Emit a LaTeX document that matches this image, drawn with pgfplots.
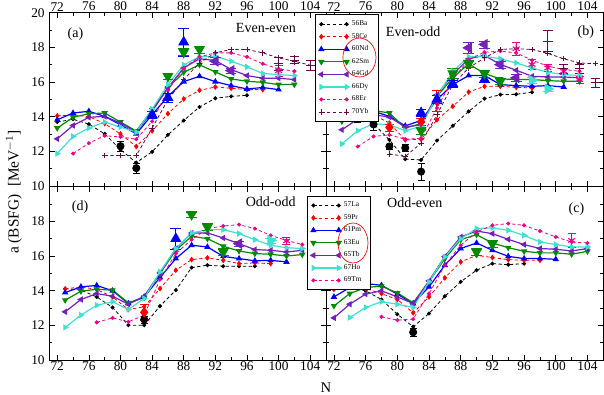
\documentclass[border=0pt]{standalone}
\usepackage{pgfplots}
\pgfplotsset{compat=1.18}
\usepackage{fontspec}
\setmainfont{Liberation Serif}
\definecolor{cgreen}{RGB}{0,139,0}
\definecolor{cindigo}{RGB}{114,33,188}
\definecolor{cturq}{RGB}{64,224,208}
\definecolor{cmaroon}{RGB}{103,7,72}
\tikzset{plab/.style={font=\fontsize{10.5}{12}\selectfont}}
\newcommand{\legE}[1]{\addlegendentry{#1\hspace*{2.5pt}}}
\pgfplotsset{
 panel/.style={scale only axis, width=207.5pt, height=130pt,
   xmin=71, xmax=106, ymin=10, ymax=20,
   xtick={72,76,...,104}, minor xtick={74,78,...,102},
   ytick={10,12,...,20}, minor ytick={11,13,...,19},
   tick align=inside, major tick length=4pt, minor tick length=2.2pt,
   every tick/.append style={black, line width=0.5pt},
   tick label style={font=\fontsize{10}{12}\selectfont},
   xticklabel style={inner sep=1pt},
   /pgf/number format/assume math mode=true,
   axis line style={line width=0.6pt}},
 dsh/.style={dash pattern=on 2.5pt off 1.8pt, line width=0.6pt},
 sld/.style={line width=0.9pt},
 sBa/.style={black, dsh, mark=*, mark size=1.2pt, mark options={solid}},
 sCe/.style={red, dsh, mark=diamond*, mark size=1.7pt, mark options={solid}},
 sNd/.style={blue, sld, mark=triangle*, mark size=1.9pt, mark options={solid}},
 sSm/.style={cgreen, sld, mark=triangle*, mark size=1.9pt, mark options={solid, rotate=180}},
 sGd/.style={cindigo, sld, mark=triangle*, mark size=1.9pt, mark options={solid, rotate=90}},
 sDy/.style={cturq, sld, mark=triangle*, mark size=1.9pt, mark options={solid, rotate=-90}},
 sEr/.style={magenta, dsh, mark=*, mark size=1.2pt, mark options={solid}},
 sYb/.style={cmaroon, dsh, mark=+, mark size=2pt, mark options={solid}},
 ex/.style={only marks, forget plot, line width=0.8pt,
   error bars/y dir=both, error bars/y explicit,
   error bars/error bar style={line width=0.8pt}},
 exEr/.style={magenta, ex, mark=asterisk, mark size=3pt},
 exYb/.style={cmaroon, ex, mark=+, mark size=3.5pt},
 leg/.style={legend cell align=left,
   legend image code/.code={\draw[##1] plot coordinates {(0pt,0pt) (19pt,0pt)};},
   legend style={draw=black, line width=0.6pt, fill=white,
     font=\fontsize{5.5}{6}\selectfont, inner sep=2.5pt, row sep=0.2pt,
     nodes={inner sep=2pt}}}
}
\begin{document}
\begin{tikzpicture}
\useasboundingbox (0,0) rectangle (453pt,296.25pt);
% ---------------- (a) Even-even
\begin{axis}[panel, at={(37pt,156.75pt)}, anchor=south west, xticklabel pos=right]
\addplot[sBa] coordinates {(72,13.69)(74,13.85)(76,13.57)(78,13.01)(80,12.1)(82,11.35)(84,11.97)(86,12.95)(88,13.78)(90,14.56)(92,15.06)(94,15.17)(96,15.23)};
\addplot[sCe] coordinates {(72,14.05)(74,14.1)(76,14.0)(78,13.6)(80,13.0)(82,12.28)(84,13.18)(86,14.17)(88,15.02)(90,15.52)(92,15.71)(94,15.64)(96,15.56)(98,15.56)};
\addplot[sNd] coordinates {(72,13.82)(74,14.21)(76,14.31)(78,14.02)(80,13.53)(82,13.01)(84,14.11)(86,15.17)(88,16.02)(90,16.33)(92,16.02)(94,15.79)(96,15.6)(98,15.68)(100,15.56)};
\addplot[sSm] coordinates {(72,13.34)(74,13.96)(76,14.17)(78,14.21)(80,13.69)(82,13.17)(84,14.4)(86,15.66)(88,16.56)(90,16.99)(92,16.58)(94,16.18)(96,16.04)(98,15.98)(100,15.85)(102,15.85)};
\addplot[sGd] coordinates {(72,12.72)(74,13.49)(76,13.96)(78,14.02)(80,13.63)(82,13.11)(84,14.3)(86,15.66)(88,16.81)(90,17.34)(92,17.24)(94,16.72)(96,16.37)(98,16.22)(100,16.22)(102,16.14)};
\addplot[sDy] coordinates {(72,11.87)(74,12.86)(76,13.34)(78,13.69)(80,13.4)(82,13.11)(84,14.44)(86,15.85)(88,16.99)(90,17.45)(92,17.49)(94,17.2)(96,16.87)(98,16.49)(100,16.43)(102,16.37)};
\addplot[sEr] coordinates {(74,11.87)(76,12.47)(78,12.9)(80,12.83)(82,12.7)(84,13.73)(86,15.52)(88,16.81)(90,17.45)(92,17.68)(94,17.68)(96,17.45)(98,17.05)(100,16.76)(102,16.62)};
\addplot[sYb] coordinates {(78,11.76)(80,11.76)(82,11.76)(84,13.34)(86,14.98)(88,16.14)(90,17.1)(92,17.68)(94,17.88)(96,17.88)(98,17.68)(100,17.39)(102,17.2)(104,16.97)};
\addplot[black, ex, mark=*, mark size=2.6pt] coordinates {(80,12.3) +- (0,0.3) (82,11.03) +- (0,0.3)};
\addplot[blue, ex, mark=triangle*, mark size=4pt] coordinates {(84,14.1) +- (0,0.2) (86,15.1) +- (0,0.25) (88,18.3) +- (0,0.8)};
\addplot[cgreen, ex, mark=triangle*, mark size=4pt, mark options={rotate=180}] coordinates {(86,16.33) +- (0,0.15) (88,17.72) +- (0,0.2) (90,17.88) +- (0,0.2)};
\addplot[cindigo, ex, mark=triangle*, mark size=4pt, mark options={rotate=90}] coordinates {(92,17.2) +- (0,0.2) (94,16.66) +- (0,0.15)};
\addplot[exEr] coordinates {(100,16.65) +- (0,0.3)};
\addplot[exYb] coordinates {(100,17.05) +- (0,0.35) (102,17.26) +- (0,0.2) (104,16.97) +- (0,0.3)};
\node[plab] at (axis cs:74.3,18.74) {(a)};
\node[plab] at (axis cs:98.4,19.1) {Even-even};
\end{axis}
% ---------------- (d) Odd-odd
\begin{axis}[panel, at={(37pt,26.25pt)}, anchor=south west, yticklabels={10,12,14,16,18,{}}]
\addplot[sBa] coordinates {(73,14.12)(75,14.03)(77,13.64)(79,13.03)(81,12.01)(83,12.01)(85,13.11)(87,14.03)(89,15.33)(91,15.47)(93,15.41)(95,15.41)(97,15.41)};
\addplot[sCe] coordinates {(73,14.1)(75,14.22)(77,14.07)(79,13.64)(81,12.91)(83,13.07)(85,14.12)(87,15.18)(89,15.79)(91,15.89)(93,15.75)(95,15.56)(97,15.6)(99,15.56)};
\addplot[sNd] coordinates {(73,13.89)(75,14.22)(77,14.3)(79,13.99)(81,13.26)(83,13.64)(85,14.76)(87,15.85)(89,16.62)(91,16.52)(93,15.98)(95,15.85)(97,15.72)(99,15.75)(101,15.66)};
\addplot[sSm] coordinates {(73,13.45)(75,13.97)(77,14.08)(79,14.03)(81,13.3)(83,13.6)(85,14.99)(87,16.33)(89,17.14)(91,17.0)(93,16.56)(95,16.29)(97,16.14)(99,16.1)(101,16.0)(103,16.08)};
\addplot[sGd] coordinates {(73,12.78)(75,13.49)(77,13.83)(79,13.68)(81,13.22)(83,13.68)(85,15.02)(87,16.43)(89,17.33)(91,17.33)(93,17.04)(95,16.71)(97,16.37)(99,16.33)(101,16.23)(103,16.33)};
\addplot[sDy] coordinates {(73,11.88)(75,12.59)(77,13.16)(79,13.36)(81,12.91)(83,13.55)(85,15.08)(87,16.43)(89,17.33)(91,17.52)(93,17.52)(95,17.29)(97,16.94)(99,16.62)(101,16.48)(103,16.43)};
\addplot[sEr] coordinates {(77,12.17)(79,12.43)(81,12.2)(83,12.59)(85,14.64)(87,16.14)(89,16.94)(91,17.58)(93,17.73)(95,17.81)(97,17.58)(99,17.19)(101,16.9)(103,16.66)};
\addplot[black, ex, mark=*, mark size=2.6pt] coordinates {(83,12.34) +- (0,0.2)};
\addplot[red, ex, mark=diamond*, mark size=3.5pt] coordinates {(83,12.75) +- (0,0.45)};
\addplot[blue, ex, mark=triangle*, mark size=4pt] coordinates {(87,17.0) +- (0,0.6)};
\addplot[cgreen, ex, mark=triangle*, mark size=4pt, mark options={rotate=180}] coordinates {(89,18.4) +- (0,0.15) (91,17.67) +- (0,0.2) (93,16.23) +- (0,0.2)};
\addplot[cindigo, ex, mark=triangle*, mark size=4pt, mark options={rotate=90}] coordinates {(95,16.71) +- (0,0.15)};
\addplot[cturq, ex, mark=triangle*, mark size=4pt, mark options={rotate=-90}] coordinates {(99,16.9) +- (0,0.15)};
\addplot[exEr] coordinates {(101,16.87) +- (0,0.2)};
\node[plab] at (axis cs:74.9,18.8) {(d)};
\node[plab] at (axis cs:99,19.14) {Odd-odd};
\end{axis}
% ---------------- (b) Even-odd
\begin{axis}[panel, at={(244.5pt,156.75pt)}, anchor=south west, width=208pt, xticklabel pos=right, yticklabels={}, leg,
  legend style={at={(axis description cs:-0.04,0.99)}, anchor=north west}]
\addplot[sBa] coordinates {(73,14.02)(75,13.9)(77,13.6)(79,12.66)(81,11.55)(83,11.5)(85,12.62)(87,13.47)(89,14.3)(91,15.04)(93,15.27)(95,15.29)(97,15.41)};
\legE{56Ba}
\addplot[sCe] coordinates {(73,14.27)(75,14.21)(77,14.11)(79,13.63)(81,12.66)(83,12.7)(85,13.82)(87,14.6)(89,15.42)(91,15.75)(93,15.75)(95,15.69)(97,15.66)};
\legE{58Ce}
\addplot[sNd] coordinates {(73,14.17)(75,14.44)(77,14.31)(79,14.02)(81,13.47)(83,13.78)(85,14.98)(87,15.85)(89,16.37)(91,16.37)(93,15.85)(95,15.79)(97,15.75)(99,15.79)(101,15.71)};
\legE{60Nd}
\addplot[sSm] coordinates {(73,13.73)(75,14.15)(77,14.36)(79,14.21)(81,13.34)(83,13.6)(85,15.17)(87,16.24)(89,17.05)(91,16.49)(93,16.18)(95,16.14)(97,16.14)(99,16.08)(101,16.04)(103,16.04)};
\legE{62Sm}
\addplot[sGd] coordinates {(73,13.24)(75,13.86)(77,14.11)(79,13.98)(81,13.4)(83,13.53)(85,15.27)(87,16.43)(89,17.34)(91,17.53)(93,17.01)(95,16.68)(97,16.33)(99,16.29)(101,16.29)(103,16.24)};
\legE{64Gd}
\addplot[sDy] coordinates {(73,12.43)(75,13.19)(77,13.59)(79,13.53)(81,13.19)(83,13.44)(85,15.17)(87,16.62)(89,17.45)(91,17.49)(93,17.34)(95,17.1)(97,16.81)(99,16.56)(101,16.43)(103,16.37)};
\legE{66Dy}
\addplot[sEr] coordinates {(75,12.28)(77,12.86)(79,12.95)(81,12.7)(83,12.75)(85,14.5)(87,16.14)(89,17.3)(91,17.72)(93,17.78)(95,17.68)(97,17.26)(99,16.91)(101,16.72)(103,16.62)};
\legE{68Er}
\addplot[sYb] coordinates {(79,11.85)(81,11.7)(83,12.47)(85,14.11)(87,15.85)(89,16.81)(91,17.39)(93,17.88)(95,17.92)(97,17.88)(99,17.65)(101,17.34)(103,17.1)(105,17.05)};
\legE{70Yb}
\addplot[black, ex, mark=*, mark size=2.6pt] coordinates {(75,13.96) +- (0,0.3) (77,13.55) +- (0,0.35) (79,12.28) +- (0,0.15) (81,12.2) +- (0,0.2) (83,10.83) +- (0,0.5)};
\addplot[red, ex, mark=diamond*, mark size=3.5pt] coordinates {(79,13.38) +- (0,0.2) (83,13.7) +- (0,0.2) (85,14.9) +- (0,0.6)};
\addplot[blue, ex, mark=triangle*, mark size=4pt] coordinates {(83,14.22) +- (0,0.2) (85,15.0) +- (0,0.25) (87,15.9) +- (0,0.2) (91,16.14) +- (0,0.15)};
\addplot[cgreen, ex, mark=triangle*, mark size=4pt, mark options={rotate=180}] coordinates {(83,13.2) +- (0,0.2) (87,16.49) +- (0,0.3) (89,17.05) +- (0,0.2) (91,16.49) +- (0,0.2) (93,16.04) +- (0,0.15)};
\addplot[cindigo, ex, mark=triangle*, mark size=4pt, mark options={rotate=90}] coordinates {(89,17.97) +- (0,0.3) (91,18.17) +- (0,0.2) (93,17.0) +- (0,0.2) (95,16.24) +- (0,0.2)};
\addplot[cturq, ex, mark=triangle*, mark size=4pt, mark options={rotate=-90}] coordinates {(97,16.1) +- (0,0.2) (99,15.6) +- (0,0.15)};
\addplot[exEr] coordinates {(95,17.92) +- (0,0.35) (97,17.01) +- (0,0.3) (99,16.81) +- (0,0.2) (101,16.62) +- (0,0.2) (103,16.14) +- (0,0.2)};
\addplot[exYb] coordinates {(99,18.36) +- (0,0.6) (101,16.76) +- (0,0.25) (103,16.76) +- (0,0.25) (105,15.95) +- (0,0.25)};
\node[plab] at (axis cs:103.8,18.86) {(b)};
\node[plab] at (axis cs:82,18.9) {Even-odd};
\end{axis}
% ---------------- (c) Odd-even
\begin{axis}[panel, at={(244.5pt,26.25pt)}, anchor=south west, width=208pt, yticklabels={}, leg,
  legend style={at={(axis description cs:-0.068,0.948)}, anchor=north west}]
\addplot[sBa] coordinates {(72,14.08)(74,14.22)(76,13.99)(78,13.49)(80,12.64)(82,11.92)(84,12.68)(86,13.68)(88,14.51)(90,15.18)(92,15.56)(94,15.5)(96,15.56)};
\legE{57La}
\addplot[sCe] coordinates {(72,14.08)(74,14.31)(76,14.12)(78,13.83)(80,13.49)(82,12.72)(84,13.64)(86,14.74)(88,15.66)(90,16.04)(92,15.91)(94,15.79)(96,15.75)(98,15.75)};
\legE{59Pr}
\addplot[sNd] coordinates {(72,13.64)(74,14.18)(76,14.41)(78,14.31)(80,13.8)(82,13.26)(84,14.22)(86,15.47)(88,16.43)(90,16.75)(92,16.33)(94,15.98)(96,15.85)(98,15.85)(100,15.81)};
\legE{61Pm}
\addplot[sSm] coordinates {(72,13.12)(74,13.83)(76,14.18)(78,14.26)(80,13.87)(82,13.3)(84,14.51)(86,15.85)(88,16.94)(90,17.23)(92,16.75)(94,16.48)(96,16.27)(98,16.18)(100,16.18)(102,16.1)(104,16.27)};
\legE{63Eu}
\addplot[sGd] coordinates {(72,12.43)(74,13.22)(76,13.8)(78,13.99)(80,13.64)(82,13.26)(84,14.56)(86,15.98)(88,17.1)(90,17.44)(92,17.29)(94,16.96)(96,16.66)(98,16.43)(100,16.39)(102,16.29)(104,16.43)};
\legE{65Tb}
\addplot[sDy] coordinates {(74,12.45)(76,13.03)(78,13.36)(80,13.22)(82,13.03)(84,14.51)(86,15.95)(88,17.0)(90,17.58)(92,17.62)(94,17.48)(96,17.19)(98,16.81)(100,16.66)(102,16.52)(104,16.52)};
\legE{67Ho}
\addplot[sEr] coordinates {(78,12.49)(80,12.3)(82,12.36)(84,13.83)(86,15.47)(88,16.62)(90,17.39)(92,17.77)(94,17.87)(96,17.77)(98,17.44)(100,17.1)(102,16.81)(104,16.75)};
\legE{69Tm}
\addplot[black, ex, mark=*, mark size=2.6pt] coordinates {(82,11.6) +- (0,0.25)};
\addplot[cgreen, ex, mark=triangle*, mark size=4pt, mark options={rotate=180}] coordinates {(90,16.23) +- (0,0.2) (92,16.71) +- (0,0.2)};
\addplot[exEr] coordinates {(102,16.9) +- (0,0.4)};
\node[plab] at (axis cs:102.6,18.7) {(c)};
\node[plab] at (axis cs:82.2,19.1) {Odd-even};
\end{axis}
% annotations
\draw[red, line width=0.5pt] (269.6pt,253.1pt) ellipse (12.4pt and 14.6pt);
\draw[red, line width=0.5pt] (264.75pt,114pt) ellipse (11.25pt and 15pt);
\node[rotate=90, font=\fontsize{11.5}{13}\selectfont] at (10.5pt,152.25pt) {a (BSFG)\ \ [MeV$^{-1}$]};
\node[font=\fontsize{11}{13}\selectfont] at (244.5pt,5.5pt) {N};
\end{tikzpicture}
\end{document}
